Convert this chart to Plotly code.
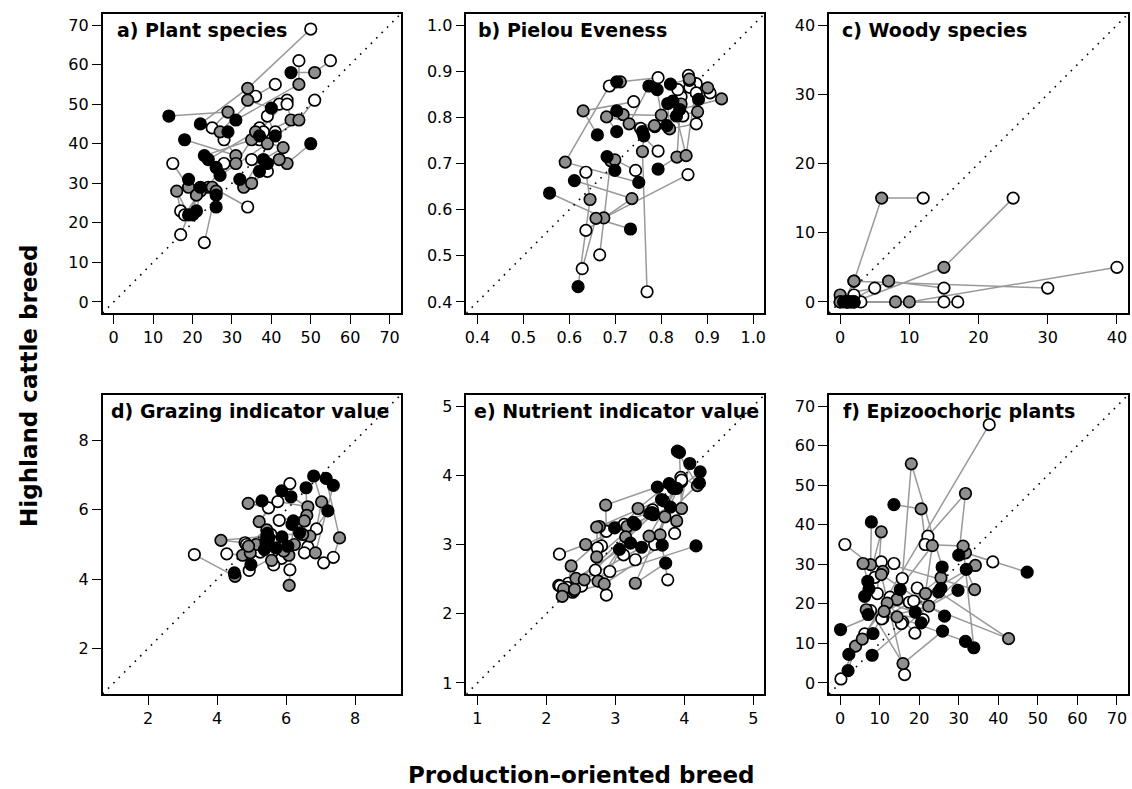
import plotly.graph_objects as go

# ---------------- data (production-oriented breed = x, Highland cattle = y) ----------------
# Each index i is one site; lines connect black[i] -> gray[i] -> white[i]

# a) Plant species
a_black_x = [14, 22, 31, 45, 40, 29, 18, 23, 24, 37, 41, 50, 26, 27, 32, 38, 39, 37, 19, 22, 26, 26, 19, 21, 20]
a_black_y = [47, 45, 46, 58, 49, 43, 41, 37, 36, 42, 42, 40, 34, 32, 31, 36, 35, 33, 31, 29, 27, 24, 22, 23, 22]
a_gray_x = [29, 34, 47, 51, 34, 27, 31, 35, 36, 45, 47, 44, 31, 39, 33, 43, 42, 35, 19, 24, 25, 26, 16, 22, 21]
a_gray_y = [48, 54, 55, 58, 51, 43, 37, 41, 43, 46, 46, 35, 35, 40, 29, 39, 36, 30, 29, 29, 29, 28, 28, 28, 27]
a_white_x = [25, 50, 47, 55, 41, 36, 28, 44, 42, 44, 51, 39, 37, 38, 41, 37, 35, 39, 15, 28, 34, 23, 17, 18, 17]
a_white_y = [44, 69, 61, 61, 55, 52, 41, 51, 50, 50, 51, 47, 44, 43, 43, 41, 36, 33, 35, 35, 24, 15, 23, 22, 17]

# b) Pielou Eveness
b_black_x = [0.557, 0.733, 0.619, 0.611, 0.751, 0.699, 0.682, 0.793, 0.762, 0.759, 0.661, 0.703, 0.703, 0.703, 0.773, 0.791, 0.820, 0.881, 0.814, 0.825, 0.840, 0.833, 0.812]
b_black_y = [0.636, 0.558, 0.433, 0.663, 0.659, 0.685, 0.715, 0.688, 0.760, 0.769, 0.762, 0.769, 0.814, 0.877, 0.868, 0.860, 0.872, 0.839, 0.830, 0.835, 0.817, 0.803, 0.782]
b_gray_x = [0.675, 0.658, 0.645, 0.736, 0.591, 0.690, 0.699, 0.834, 0.759, 0.785, 0.630, 0.681, 0.717, 0.711, 0.730, 0.800, 0.861, 0.901, 0.818, 0.854, 0.931, 0.879, 0.843]
b_gray_y = [0.582, 0.581, 0.622, 0.624, 0.703, 0.706, 0.708, 0.714, 0.726, 0.782, 0.814, 0.801, 0.806, 0.877, 0.786, 0.805, 0.883, 0.864, 0.775, 0.717, 0.840, 0.812, 0.829]
b_white_x = [0.858, 0.628, 0.636, 0.636, 0.687, 0.666, 0.744, 0.843, 0.769, 0.755, 0.740, 0.786, 0.847, 0.793, 0.793, 0.836, 0.859, 0.906, 0.876, 0.876, 0.862, 0.876, 0.861]
b_white_y = [0.676, 0.472, 0.681, 0.555, 0.868, 0.502, 0.685, 0.845, 0.422, 0.776, 0.834, 0.780, 0.803, 0.886, 0.727, 0.860, 0.891, 0.853, 0.786, 0.873, 0.865, 0.853, 0.880]

# c) Woody species
c_black_x = [1, 2, 1.5, 0.5, 1, 2, 1, 1.5, 1, 2]
c_black_y = [0, 0, 0, 0, 0, 0, 0, 0, 0, 0]
c_gray_x = [6, 15, 10, 2, 7, 0, 0, 8, 0, 2]
c_gray_y = [15, 5, 0, 3, 3, 1, 0, 0, 0, 3]
c_white_x = [12, 25, 40, 30, 15, 5, 17, 15, 3, 2]
c_white_y = [15, 15, 5, 2, 2, 2, 0, 0, 0, 1]

# d) Grazing indicator value
d_black_x = [4.50, 4.98, 5.30, 5.87, 6.14, 6.58, 6.80, 7.16, 7.37, 7.21, 6.17, 6.21, 5.88, 5.44, 5.42, 5.71, 6.05, 5.37, 6.39, 5.42, 5.46, 5.50]
d_black_y = [4.18, 4.42, 6.26, 6.55, 6.38, 6.64, 6.98, 6.91, 6.71, 5.97, 5.58, 5.68, 5.22, 5.24, 5.03, 4.90, 4.95, 4.85, 5.34, 5.10, 5.32, 5.20]
d_gray_x = [4.52, 4.74, 4.90, 5.22, 6.63, 6.60, 7.03, 7.55, 6.85, 6.69, 6.53, 6.09, 6.24, 4.11, 5.13, 5.58, 6.08, 4.96, 6.48, 5.93, 4.91, 5.44]
d_gray_y = [4.08, 4.69, 6.19, 5.66, 6.09, 5.84, 6.23, 5.19, 4.76, 5.24, 5.68, 3.82, 5.00, 5.12, 5.00, 4.54, 4.69, 4.76, 5.29, 4.81, 4.95, 5.42]
d_white_x = [3.34, 4.28, 5.49, 6.11, 5.76, 5.80, 6.88, 7.37, 7.09, 6.63, 6.53, 6.11, 5.87, 4.81, 4.89, 5.64, 5.70, 5.25, 5.56, 4.93, 5.80, 4.85]
d_white_y = [4.71, 4.73, 6.06, 6.76, 6.24, 5.70, 5.45, 4.63, 4.47, 4.93, 4.76, 4.27, 4.60, 5.05, 4.90, 4.41, 5.07, 4.78, 5.29, 4.25, 5.10, 5.00]

# e) Nutrient indicator value
e_black_x = [3.90, 3.93, 4.08, 4.23, 4.22, 3.61, 3.78, 3.84, 3.89, 3.80, 3.67, 3.53, 3.55, 3.26, 3.29, 2.99, 3.22, 3.38, 3.06, 3.68, 3.73, 4.17, 3.50, 3.55]
e_black_y = [4.35, 4.33, 4.17, 4.05, 3.89, 3.83, 3.88, 3.81, 3.81, 3.54, 3.65, 3.46, 3.43, 3.32, 3.29, 3.24, 3.02, 2.96, 2.93, 2.99, 2.73, 2.98, 3.45, 3.45]
e_gray_x = [4.19, 3.96, 3.89, 3.70, 3.72, 2.86, 3.33, 3.65, 3.49, 3.17, 2.77, 2.73, 3.15, 2.57, 2.73, 2.36, 2.43, 2.55, 2.75, 2.84, 3.29, 2.25, 2.23, 2.41]
e_gray_y = [3.85, 3.52, 3.34, 3.63, 3.40, 3.57, 3.52, 3.14, 3.12, 3.26, 3.26, 3.25, 3.11, 3.00, 2.82, 2.69, 2.51, 2.49, 2.47, 2.43, 2.44, 2.36, 2.25, 2.35]
e_white_x = [3.95, 3.96, 3.86, 3.54, 3.57, 2.87, 3.13, 3.76, 3.29, 3.12, 2.80, 2.74, 2.92, 2.19, 2.71, 2.32, 2.18, 2.51, 2.87, 2.38, 3.96, 2.30, 2.40, 2.20]
e_white_y = [3.97, 3.91, 3.16, 3.50, 3.00, 3.19, 3.29, 2.49, 2.78, 2.85, 2.98, 2.95, 2.61, 2.86, 2.63, 2.44, 2.41, 2.40, 2.27, 2.31, 3.93, 2.38, 2.33, 2.40]

# f) Epizoochoric plants
f_black_x = [2.0, 2.2, 0.1, 13.6, 7.9, 47.3, 30.0, 25.8, 31.9, 7.0, 7.3, 6.2, 15.2, 25.5, 24.9, 29.8, 7.1, 19.0, 20.5, 26.4, 25.9, 8.3, 31.7, 33.8, 8.1]
f_black_y = [3.1, 7.2, 13.5, 45.1, 40.7, 28.0, 32.3, 29.3, 28.7, 25.7, 23.8, 21.9, 23.6, 23.9, 23.0, 23.4, 17.3, 17.9, 15.2, 16.9, 13.1, 12.5, 10.5, 8.9, 7.0]
f_gray_x = [3.9, 5.6, 21.6, 20.5, 7.7, 31.7, 31.7, 18.0, 34.0, 5.8, 10.8, 10.4, 14.4, 25.5, 42.6, 22.4, 6.6, 11.9, 23.3, 10.4, 15.9, 11.1, 14.4, 31.1, 34.2]
f_gray_y = [9.3, 11.1, 22.6, 44.0, 29.9, 32.9, 47.9, 55.4, 23.6, 30.2, 28.2, 38.2, 21.1, 26.6, 11.2, 19.4, 18.5, 20.2, 34.7, 27.4, 4.9, 18.1, 16.7, 34.6, 29.7]
f_white_x = [0.2, 37.7, 19.5, 21.6, 1.2, 38.6, 22.2, 15.7, 10.4, 13.6, 8.8, 9.4, 12.6, 17.5, 18.6, 10.8, 15.8, 18.9, 6.2, 16.3, 7.7, 21.0, 15.5, 21.5, 10.5]
f_white_y = [1.0, 65.3, 24.0, 35.2, 35.0, 30.6, 37.1, 26.4, 30.6, 30.2, 26.7, 22.6, 21.7, 20.4, 20.7, 16.4, 15.4, 12.6, 12.4, 2.1, 18.3, 16.0, 15.0, 35.0, 16.2]

titles = ["a) Plant species", "b) Pielou Eveness", "c) Woody species",
          "d) Grazing indicator value", "e) Nutrient indicator value", "f) Epizoochoric plants"]

ticks_a = [0, 10, 20, 30, 40, 50, 60, 70]
ticks_b = [0.4, 0.5, 0.6, 0.7, 0.8, 0.9, 1.0]
ticks_b_text = ["0.4", "0.5", "0.6", "0.7", "0.8", "0.9", "1.0"]
ticks_c = [0, 10, 20, 30, 40]
ticks_d = [2, 4, 6, 8]
ticks_e = [1, 2, 3, 4, 5]
ticks_f = [0, 10, 20, 30, 40, 50, 60, 70]

# ---------------- layout geometry ----------------
W, H = 1132, 789
FONT = "DejaVu Sans"

panels = [
    dict(d=(a_black_x, a_black_y, a_gray_x, a_gray_y, a_white_x, a_white_y), xp=(101, 400), yp=(14, 313),
         rng=(-2.8, 72.8), tv=ticks_a, tt=[str(t) for t in ticks_a], toff=12),
    dict(d=(b_black_x, b_black_y, b_gray_x, b_gray_y, b_white_x, b_white_y), xp=(466, 765), yp=(14, 313),
         rng=(0.376, 1.024), tv=ticks_b, tt=ticks_b_text, toff=10),
    dict(d=(c_black_x, c_black_y, c_gray_x, c_gray_y, c_white_x, c_white_y), xp=(830, 1130), yp=(14, 313),
         rng=(-1.6, 41.6), tv=ticks_c, tt=[str(t) for t in ticks_c], toff=11),
    dict(d=(d_black_x, d_black_y, d_gray_x, d_gray_y, d_white_x, d_white_y), xp=(101, 400), yp=(395, 694),
         rng=(0.68, 9.32), tv=ticks_d, tt=[str(t) for t in ticks_d], toff=6),
    dict(d=(e_black_x, e_black_y, e_gray_x, e_gray_y, e_white_x, e_white_y), xp=(466, 765), yp=(395, 694),
         rng=(0.84, 5.16), tv=ticks_e, tt=[str(t) for t in ticks_e], toff=6),
    dict(d=(f_black_x, f_black_y, f_gray_x, f_gray_y, f_white_x, f_white_y), xp=(830, 1130), yp=(395, 694),
         rng=(-2.8, 72.8), tv=ticks_f, tt=[str(t) for t in ticks_f], toff=12),
]

fig = go.Figure()
annotations = []
layout_axes = {}

for i, p in enumerate(panels):
    n = i + 1
    xa = "x" if n == 1 else f"x{n}"
    ya = "y" if n == 1 else f"y{n}"
    bx, by, gx, gy, wx, wy = p["d"]
    lo, hi = p["rng"]

    lx, ly = [], []
    for k in range(len(bx)):
        lx += [bx[k], gx[k], wx[k], None]
        ly += [by[k], gy[k], wy[k], None]
    fig.add_trace(go.Scatter(x=lx, y=ly, mode="lines", xaxis=xa, yaxis=ya,
                             line=dict(color="#999999", width=1.5), hoverinfo="skip"))
    fig.add_trace(go.Scatter(x=[lo, hi], y=[lo, hi], mode="lines", xaxis=xa, yaxis=ya,
                             line=dict(color="black", width=1.6, dash="1.6px,6px"), hoverinfo="skip"))
    for xs, ys, col in ((wx, wy, "white"), (gx, gy, "#8f8f8f"), (bx, by, "black")):
        fig.add_trace(go.Scatter(x=xs, y=ys, mode="markers", xaxis=xa, yaxis=ya,
                                 marker=dict(size=11.5, color=col, line=dict(color="black", width=1.7))))

    x0, x1 = p["xp"]
    y0, y1 = p["yp"]
    common = dict(showgrid=False, zeroline=False, showline=True, mirror=True, linecolor="black",
                  linewidth=1.5, ticks="outside", ticklen=9, tickwidth=1.4, tickcolor="black",
                  tickfont=dict(family=FONT, size=16, color="black"), range=[lo, hi],
                  tickvals=p["tv"], ticktext=p["tt"], fixedrange=True)
    layout_axes["xaxis" if n == 1 else f"xaxis{n}"] = dict(
        domain=[x0 / W, x1 / W], anchor=ya, **common)
    layout_axes["yaxis" if n == 1 else f"yaxis{n}"] = dict(
        domain=[1 - y1 / H, 1 - y0 / H], anchor=xa, **common)

    annotations.append(dict(text=f"<b>{titles[i]}</b>", xref="paper", yref="paper",
                            x=(x0 + p["toff"]) / W, y=1 - (y0 + 16) / H, xanchor="left", yanchor="middle",
                            showarrow=False, font=dict(family=FONT, size=19, color="black")))

annotations.append(dict(text="<b>Production\u2013oriented breed</b>", xref="paper", yref="paper",
                        x=582 / W, y=1 - 775 / H, xanchor="center", yanchor="middle", showarrow=False,
                        font=dict(family=FONT, size=23, color="black")))
annotations.append(dict(text="<b>Highland cattle breed</b>", xref="paper", yref="paper",
                        x=27 / W, y=1 - 386 / H, xanchor="center", yanchor="middle", showarrow=False,
                        textangle=-90, font=dict(family=FONT, size=23, color="black")))

fig.update_layout(width=W, height=H, margin=dict(l=0, r=0, t=0, b=0),
                  paper_bgcolor="white", plot_bgcolor="white", showlegend=False,
                  annotations=annotations, **layout_axes)

fig.write_html("out.html", config={"displayModeBar": False},
               post_script="document.body.style.margin='0';document.body.style.overflow='hidden';")
